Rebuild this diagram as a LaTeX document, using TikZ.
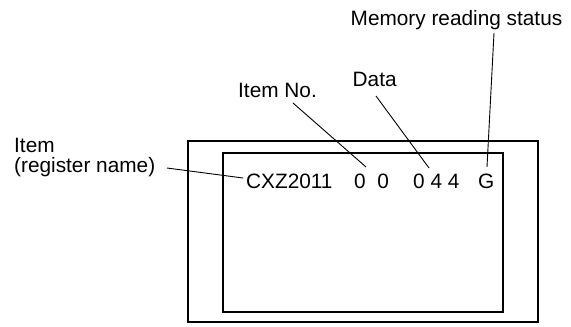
\documentclass[tikz,border=0pt]{standalone}
\usepackage{fontspec}
\setmainfont{Liberation Sans}
\usepackage{tikz}

\begin{document}
\begin{tikzpicture}[x=1pt,y=-1pt,font=\fontsize{20.8}{20}\selectfont,
lbl/.style={inner sep=0pt,anchor=base west},
frame/.style={line width=2pt},lead/.style={line width=0.9pt}]
\useasboundingbox (0,0) rectangle (571,327);
\draw[frame] (188,141) rectangle (538,322);
\draw[frame] (223,153) rectangle (503,312);
% display row
\node[lbl] (name) at (246,188) {CXZ2011};
\node[lbl] (itemno) at (354,188) {0\ \ 0};
\node[lbl] (data) at (413,188) {0 4 4};
\node[lbl] (status) at (478,188) {G};
% labels
\node[lbl,anchor=north west,align=left] (itemlbl) at (14,137.5) {Item\\(register name)};
\node[lbl] (itemnolbl) at (238,97) {Item No.};
\node[lbl] (datalbl) at (352.5,86) {Data};
\node[lbl] (statuslbl) at (350.5,25) {Memory reading status};
\draw[lead] ([shift={(153,30.5)}]itemlbl.north west)--([shift={(-3,-10)}]name.base west);
\draw[lead] ([shift={(55,6)}]itemnolbl.base west)--([shift={(12,-21)}]itemno.base west);
\draw[lead] ([shift={(23.5,10)}]datalbl.base west)--([shift={(16,-20)}]data.base west);
\draw[lead] ([shift={(143.5,8)}]statuslbl.base west)--([shift={(9,-21)}]status.base west);
\end{tikzpicture}
\end{document}
